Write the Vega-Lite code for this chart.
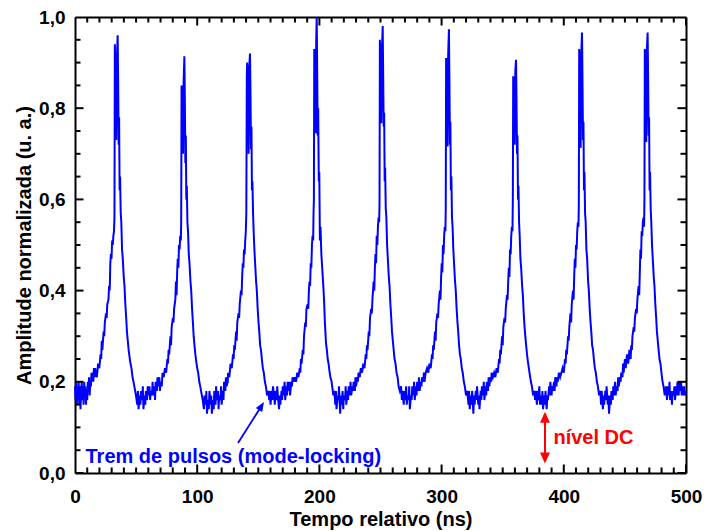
{
"$schema": "https://vega.github.io/schema/vega-lite/v6.json",
"width": 611, "height": 456,
"autosize": {"type": "none"},
"padding": {"left": 75, "top": 17, "right": 21, "bottom": 58},
"config": {
  "view": {"stroke": null},
  "axis": {"labelFont": "Liberation Sans", "labelFontWeight": "bold", "labelFontSize": 19, "labelColor": "black",
    "titleFont": "Liberation Sans", "titleFontWeight": "bold", "titleFontSize": 20, "titleColor": "black",
    "domainColor": "black", "domainWidth": 2, "grid": false}
},
"datasets": {
"xt": [{"v":0},{"v":10},{"v":20},{"v":30},{"v":40},{"v":50},{"v":60},{"v":70},{"v":80},{"v":90},{"v":100},{"v":110},{"v":120},{"v":130},{"v":140},{"v":150},{"v":160},{"v":170},{"v":180},{"v":190},{"v":200},{"v":210},{"v":220},{"v":230},{"v":240},{"v":250},{"v":260},{"v":270},{"v":280},{"v":290},{"v":300},{"v":310},{"v":320},{"v":330},{"v":340},{"v":350},{"v":360},{"v":370},{"v":380},{"v":390},{"v":400},{"v":410},{"v":420},{"v":430},{"v":440},{"v":450},{"v":460},{"v":470},{"v":480},{"v":490},{"v":500}],
"yt": [{"v":0},{"v":0.05},{"v":0.1},{"v":0.15},{"v":0.2},{"v":0.25},{"v":0.3},{"v":0.35},{"v":0.4},{"v":0.45},{"v":0.5},{"v":0.55},{"v":0.6},{"v":0.65},{"v":0.7},{"v":0.75},{"v":0.8},{"v":0.85},{"v":0.9},{"v":0.95},{"v":1}],
"sig": [
{"t":0,"a":0.19},{"t":0.5,"a":0.16},{"t":1,"a":0.2},{"t":1.5,"a":0.15},{"t":2,"a":0.18},{"t":2.5,"a":0.17},{"t":3,"a":0.2},{"t":3.5,"a":0.15},{"t":4,"a":0.19},{"t":4.5,"a":0.14},{"t":5,"a":0.18},{"t":5.5,"a":0.2},{"t":6,"a":0.16},{"t":6.5,"a":0.19},{"t":7,"a":0.15},{"t":7.5,"a":0.2},{"t":8,"a":0.17},{"t":8.5,"a":0.19},{"t":9,"a":0.15},{"t":9.5,"a":0.18},{"t":10,"a":0.16},{"t":10.5,"a":0.2},{"t":11,"a":0.18},{"t":11.5,"a":0.21},{"t":12,"a":0.17},{"t":12.5,"a":0.2},{"t":13,"a":0.19},{"t":13.5,"a":0.22},{"t":14,"a":0.2},{"t":14.5,"a":0.22},{"t":15,"a":0.2},{"t":15.5,"a":0.23},{"t":16,"a":0.21},{"t":16.5,"a":0.23},
{"t":17.0,"a":0.22},{"t":17.9,"a":0.21},{"t":18.9,"a":0.24},{"t":19.9,"a":0.23},{"t":20.9,"a":0.26},{"t":21.4,"a":0.25},{"t":21.9,"a":0.29},{"t":22.4,"a":0.27},{"t":23.4,"a":0.31},{"t":23.9,"a":0.30},{"t":24.4,"a":0.33},{"t":25.4,"a":0.35},{"t":25.9,"a":0.34},{"t":26.4,"a":0.37},{"t":27.4,"a":0.38},{"t":27.9,"a":0.41},{"t":28.4,"a":0.40},{"t":28.9,"a":0.46},{"t":29.4,"a":0.48},{"t":29.9,"a":0.47},{"t":30.4,"a":0.51},{"t":30.9,"a":0.50},{"t":31.4,"a":0.52},{"t":31.9,"a":0.53},{"t":32.3,"a":0.56},{"t":32.6,"a":0.94},{"t":33.0,"a":0.89},{"t":33.4,"a":0.92},{"t":33.8,"a":0.73},{"t":34.3,"a":0.91},{"t":34.9,"a":0.96},{"t":35.3,"a":0.86},{"t":35.7,"a":0.72},{"t":36.1,"a":0.78},{"t":36.5,"a":0.62},{"t":36.9,"a":0.65},{"t":37.4,"a":0.57},{"t":37.9,"a":0.55},{"t":38.5,"a":0.49},{"t":39.1,"a":0.47},{"t":39.9,"a":0.43},{"t":40.5,"a":0.41},{"t":41.2,"a":0.37},{"t":41.9,"a":0.34},{"t":42.5,"a":0.31},{"t":43.2,"a":0.29},{"t":43.9,"a":0.27},{"t":44.6,"a":0.255},{"t":45.4,"a":0.24},{"t":46.2,"a":0.23},{"t":47.1,"a":0.21},{"t":47.9,"a":0.20},{"t":48.9,"a":0.185},{"t":49.9,"a":0.17},
{"t":50.9,"a":0.15},{"t":51.5,"a":0.18},{"t":52,"a":0.14},{"t":53,"a":0.17},{"t":53.5,"a":0.15},{"t":54,"a":0.18},{"t":55,"a":0.16},{"t":55.5,"a":0.19},{"t":56,"a":0.14},{"t":57,"a":0.17},{"t":57.5,"a":0.15},{"t":58,"a":0.18},{"t":59,"a":0.16},{"t":59.5,"a":0.19},{"t":60,"a":0.17},{"t":61,"a":0.19},{"t":61.5,"a":0.16},{"t":62,"a":0.18},{"t":63,"a":0.17},{"t":63.5,"a":0.2},{"t":64,"a":0.17},{"t":65,"a":0.19},{"t":65.5,"a":0.16},{"t":66,"a":0.2},{"t":67,"a":0.18},{"t":67.5,"a":0.21},{"t":68,"a":0.19},{"t":69,"a":0.21},{"t":69.5,"a":0.18},{"t":70,"a":0.2},{"t":71,"a":0.19},
{"t":71.6,"a":0.22},{"t":72.6,"a":0.21},{"t":73.6,"a":0.23},{"t":74.6,"a":0.22},{"t":75.6,"a":0.25},{"t":76.1,"a":0.24},{"t":76.6,"a":0.27},{"t":77.1,"a":0.26},{"t":78.1,"a":0.30},{"t":78.6,"a":0.28},{"t":79.1,"a":0.32},{"t":80.1,"a":0.34},{"t":80.6,"a":0.33},{"t":81.1,"a":0.36},{"t":82.1,"a":0.38},{"t":82.6,"a":0.42},{"t":83.1,"a":0.39},{"t":83.6,"a":0.44},{"t":84.1,"a":0.47},{"t":84.6,"a":0.45},{"t":85.1,"a":0.50},{"t":85.6,"a":0.49},{"t":86.1,"a":0.52},{"t":86.6,"a":0.51},{"t":86.9,"a":0.55},{"t":87.2,"a":0.85},{"t":87.6,"a":0.80},{"t":88.0,"a":0.84},{"t":88.4,"a":0.70},{"t":88.9,"a":0.86},{"t":89.5,"a":0.914},{"t":89.9,"a":0.82},{"t":90.3,"a":0.68},{"t":90.7,"a":0.74},{"t":91.1,"a":0.60},{"t":91.5,"a":0.63},{"t":92.0,"a":0.55},{"t":92.5,"a":0.53},{"t":93.1,"a":0.48},{"t":93.7,"a":0.46},{"t":94.5,"a":0.42},{"t":95.1,"a":0.40},{"t":95.8,"a":0.36},{"t":96.5,"a":0.33},{"t":97.1,"a":0.30},{"t":97.8,"a":0.28},{"t":98.5,"a":0.26},{"t":99.2,"a":0.245},{"t":100.0,"a":0.23},{"t":100.8,"a":0.22},{"t":101.7,"a":0.20},{"t":102.5,"a":0.19},{"t":103.5,"a":0.175},{"t":104.5,"a":0.16},
{"t":105.5,"a":0.14},{"t":106,"a":0.17},{"t":107,"a":0.15},{"t":107.5,"a":0.18},{"t":108,"a":0.13},{"t":109,"a":0.16},{"t":109.5,"a":0.14},{"t":110,"a":0.18},{"t":111,"a":0.15},{"t":111.5,"a":0.17},{"t":112,"a":0.13},{"t":113,"a":0.16},{"t":113.5,"a":0.14},{"t":114,"a":0.18},{"t":115,"a":0.15},{"t":115.5,"a":0.19},{"t":116,"a":0.16},{"t":117,"a":0.18},{"t":117.5,"a":0.14},{"t":118,"a":0.17},{"t":119,"a":0.16},{"t":119.5,"a":0.19},{"t":120,"a":0.15},{"t":121,"a":0.18},{"t":121.5,"a":0.16},{"t":122,"a":0.2},{"t":123,"a":0.18},{"t":123.5,"a":0.21},{"t":124,"a":0.19},{"t":125,"a":0.2},
{"t":125.3,"a":0.22},{"t":126.3,"a":0.21},{"t":127.3,"a":0.24},{"t":128.3,"a":0.23},{"t":129.3,"a":0.26},{"t":129.8,"a":0.25},{"t":130.3,"a":0.28},{"t":130.8,"a":0.27},{"t":131.8,"a":0.31},{"t":132.3,"a":0.29},{"t":132.8,"a":0.33},{"t":133.8,"a":0.35},{"t":134.3,"a":0.34},{"t":134.8,"a":0.37},{"t":135.8,"a":0.40},{"t":136.3,"a":0.39},{"t":136.8,"a":0.43},{"t":137.3,"a":0.46},{"t":137.8,"a":0.45},{"t":138.3,"a":0.49},{"t":138.8,"a":0.48},{"t":139.3,"a":0.51},{"t":139.8,"a":0.53},{"t":140.2,"a":0.57},{"t":140.6,"a":0.87},{"t":140.9,"a":0.90},{"t":141.3,"a":0.86},{"t":141.7,"a":0.88},{"t":142.1,"a":0.70},{"t":142.6,"a":0.89},{"t":143.2,"a":0.92},{"t":143.6,"a":0.84},{"t":144.0,"a":0.71},{"t":144.4,"a":0.76},{"t":144.8,"a":0.62},{"t":145.2,"a":0.64},{"t":145.7,"a":0.57},{"t":146.2,"a":0.53},{"t":146.8,"a":0.49},{"t":147.4,"a":0.46},{"t":148.2,"a":0.42},{"t":148.8,"a":0.40},{"t":149.5,"a":0.36},{"t":150.2,"a":0.33},{"t":150.8,"a":0.31},{"t":151.5,"a":0.28},{"t":152.2,"a":0.27},{"t":152.9,"a":0.25},{"t":153.7,"a":0.23},{"t":154.5,"a":0.22},{"t":155.4,"a":0.20},{"t":156.2,"a":0.19},{"t":157.2,"a":0.17},{"t":158.2,"a":0.18},
{"t":159,"a":0.16},{"t":159.5,"a":0.18},{"t":160,"a":0.15},{"t":161,"a":0.18},{"t":161.5,"a":0.16},{"t":162,"a":0.19},{"t":163,"a":0.17},{"t":163.5,"a":0.15},{"t":164,"a":0.18},{"t":165,"a":0.16},{"t":165.5,"a":0.19},{"t":166,"a":0.17},{"t":167,"a":0.14},{"t":167.5,"a":0.17},{"t":168,"a":0.15},{"t":169,"a":0.18},{"t":169.5,"a":0.16},{"t":170,"a":0.19},{"t":171,"a":0.17},{"t":171.5,"a":0.2},{"t":172,"a":0.16},{"t":173,"a":0.19},{"t":173.5,"a":0.17},{"t":174,"a":0.2},{"t":175,"a":0.18},{"t":175.5,"a":0.2},{"t":176,"a":0.17},{"t":177,"a":0.2},{"t":177.5,"a":0.19},{"t":178,"a":0.21},{"t":179,"a":0.2},
{"t":179.9,"a":0.21},{"t":180.9,"a":0.20},{"t":181.9,"a":0.22},{"t":182.9,"a":0.21},{"t":183.9,"a":0.23},{"t":184.4,"a":0.22},{"t":184.9,"a":0.25},{"t":185.4,"a":0.24},{"t":186.4,"a":0.27},{"t":186.9,"a":0.26},{"t":187.4,"a":0.30},{"t":188.4,"a":0.33},{"t":188.9,"a":0.32},{"t":189.4,"a":0.36},{"t":190.4,"a":0.37},{"t":190.9,"a":0.36},{"t":191.4,"a":0.40},{"t":191.9,"a":0.42},{"t":192.4,"a":0.41},{"t":192.9,"a":0.46},{"t":193.4,"a":0.45},{"t":193.9,"a":0.50},{"t":194.4,"a":0.52},{"t":194.9,"a":0.51},{"t":195.2,"a":0.57},{"t":195.5,"a":0.60},{"t":195.8,"a":0.93},{"t":196.2,"a":0.88},{"t":196.6,"a":0.92},{"t":197.0,"a":0.745},{"t":197.4,"a":0.95},{"t":197.8,"a":1.0},{"t":198.2,"a":0.88},{"t":198.6,"a":0.74},{"t":199.0,"a":0.80},{"t":199.5,"a":0.64},{"t":199.9,"a":0.66},{"t":200.4,"a":0.51},{"t":200.9,"a":0.54},{"t":201.6,"a":0.48},{"t":202.3,"a":0.45},{"t":203.2,"a":0.41},{"t":203.8,"a":0.38},{"t":204.5,"a":0.33},{"t":205.4,"a":0.285},{"t":206.1,"a":0.27},{"t":206.8,"a":0.25},{"t":207.5,"a":0.24},{"t":208.1,"a":0.226},{"t":209.0,"a":0.21},{"t":210.0,"a":0.20},{"t":211.4,"a":0.17},{"t":212.3,"a":0.18},
{"t":213,"a":0.15},{"t":213.5,"a":0.18},{"t":214,"a":0.14},{"t":215,"a":0.17},{"t":215.5,"a":0.16},{"t":216,"a":0.19},{"t":217,"a":0.13},{"t":217.5,"a":0.17},{"t":218,"a":0.15},{"t":219,"a":0.18},{"t":219.5,"a":0.14},{"t":220,"a":0.17},{"t":221,"a":0.16},{"t":221.5,"a":0.19},{"t":222,"a":0.15},{"t":223,"a":0.18},{"t":223.5,"a":0.16},{"t":224,"a":0.19},{"t":225,"a":0.17},{"t":225.5,"a":0.2},{"t":226,"a":0.17},{"t":227,"a":0.19},{"t":227.5,"a":0.18},{"t":228,"a":0.2},{"t":229,"a":0.18},{"t":229.5,"a":0.21},{"t":230,"a":0.19},{"t":231,"a":0.21},{"t":231.5,"a":0.2},{"t":232,"a":0.22},{"t":233,"a":0.21},
{"t":233.9,"a":0.23},{"t":234.9,"a":0.22},{"t":235.9,"a":0.24},{"t":236.9,"a":0.23},{"t":237.9,"a":0.26},{"t":238.4,"a":0.25},{"t":238.9,"a":0.28},{"t":239.4,"a":0.27},{"t":240.4,"a":0.31},{"t":240.9,"a":0.30},{"t":241.4,"a":0.34},{"t":242.4,"a":0.36},{"t":242.9,"a":0.35},{"t":243.4,"a":0.38},{"t":244.4,"a":0.42},{"t":244.9,"a":0.40},{"t":245.4,"a":0.45},{"t":245.9,"a":0.48},{"t":246.4,"a":0.46},{"t":246.9,"a":0.52},{"t":247.4,"a":0.50},{"t":247.9,"a":0.54},{"t":248.4,"a":0.56},{"t":248.9,"a":0.55},{"t":249.2,"a":0.59},{"t":249.5,"a":0.95},{"t":249.9,"a":0.90},{"t":250.3,"a":0.94},{"t":250.7,"a":0.767},{"t":251.2,"a":0.93},{"t":251.8,"a":0.98},{"t":252.2,"a":0.87},{"t":252.6,"a":0.76},{"t":253.0,"a":0.79},{"t":253.4,"a":0.64},{"t":253.8,"a":0.67},{"t":254.3,"a":0.58},{"t":254.8,"a":0.56},{"t":255.4,"a":0.50},{"t":256.0,"a":0.47},{"t":256.8,"a":0.43},{"t":257.4,"a":0.41},{"t":258.1,"a":0.37},{"t":258.8,"a":0.34},{"t":259.4,"a":0.31},{"t":260.1,"a":0.29},{"t":260.8,"a":0.27},{"t":261.5,"a":0.25},{"t":262.3,"a":0.24},{"t":263.1,"a":0.22},{"t":264.0,"a":0.21},{"t":264.8,"a":0.19},{"t":265.8,"a":0.18},{"t":266.8,"a":0.19},
{"t":267.5,"a":0.16},{"t":268,"a":0.18},{"t":269,"a":0.15},{"t":269.5,"a":0.18},{"t":270,"a":0.16},{"t":271,"a":0.19},{"t":271.5,"a":0.15},{"t":272,"a":0.17},{"t":273,"a":0.16},{"t":273.5,"a":0.19},{"t":274,"a":0.14},{"t":275,"a":0.17},{"t":275.5,"a":0.16},{"t":276,"a":0.19},{"t":277,"a":0.17},{"t":277.5,"a":0.2},{"t":278,"a":0.16},{"t":279,"a":0.19},{"t":279.5,"a":0.17},{"t":280,"a":0.2},{"t":281,"a":0.18},{"t":281.5,"a":0.21},{"t":282,"a":0.18},{"t":283,"a":0.2},{"t":283.5,"a":0.19},{"t":284,"a":0.21},{"t":285,"a":0.2},{"t":285.5,"a":0.22},{"t":286,"a":0.2},{"t":287,"a":0.22},
{"t":288.1,"a":0.23},{"t":289.1,"a":0.22},{"t":290.1,"a":0.24},{"t":291.1,"a":0.23},{"t":292.1,"a":0.26},{"t":292.6,"a":0.25},{"t":293.1,"a":0.28},{"t":293.6,"a":0.27},{"t":294.6,"a":0.31},{"t":295.1,"a":0.29},{"t":295.6,"a":0.33},{"t":296.6,"a":0.35},{"t":297.1,"a":0.34},{"t":297.6,"a":0.37},{"t":298.6,"a":0.40},{"t":299.1,"a":0.38},{"t":299.6,"a":0.43},{"t":300.1,"a":0.46},{"t":300.6,"a":0.44},{"t":301.1,"a":0.50},{"t":301.6,"a":0.48},{"t":302.1,"a":0.52},{"t":302.6,"a":0.54},{"t":303.1,"a":0.53},{"t":303.4,"a":0.58},{"t":303.7,"a":0.91},{"t":304.1,"a":0.87},{"t":304.5,"a":0.90},{"t":304.9,"a":0.716},{"t":305.4,"a":0.92},{"t":306.0,"a":0.973},{"t":306.4,"a":0.86},{"t":306.8,"a":0.72},{"t":307.2,"a":0.77},{"t":307.6,"a":0.62},{"t":308.0,"a":0.65},{"t":308.5,"a":0.56},{"t":309.0,"a":0.54},{"t":309.6,"a":0.49},{"t":310.2,"a":0.46},{"t":311.0,"a":0.42},{"t":311.6,"a":0.40},{"t":312.3,"a":0.36},{"t":313.0,"a":0.33},{"t":313.6,"a":0.31},{"t":314.3,"a":0.28},{"t":315.0,"a":0.26},{"t":315.7,"a":0.25},{"t":316.5,"a":0.23},{"t":317.3,"a":0.22},{"t":318.2,"a":0.20},{"t":319.0,"a":0.19},{"t":320.0,"a":0.17},{"t":321.0,"a":0.18},
{"t":322,"a":0.15},{"t":322.5,"a":0.18},{"t":323,"a":0.14},{"t":324,"a":0.17},{"t":324.5,"a":0.15},{"t":325,"a":0.18},{"t":326,"a":0.13},{"t":326.5,"a":0.17},{"t":327,"a":0.15},{"t":328,"a":0.18},{"t":328.5,"a":0.16},{"t":329,"a":0.19},{"t":330,"a":0.15},{"t":330.5,"a":0.17},{"t":331,"a":0.14},{"t":332,"a":0.18},{"t":332.5,"a":0.16},{"t":333,"a":0.19},{"t":334,"a":0.17},{"t":334.5,"a":0.2},{"t":335,"a":0.16},{"t":336,"a":0.19},{"t":336.5,"a":0.17},{"t":337,"a":0.2},{"t":338,"a":0.18},{"t":338.5,"a":0.21},{"t":339,"a":0.19},{"t":340,"a":0.21},{"t":340.5,"a":0.2},{"t":341,"a":0.22},{"t":342,"a":0.21},
{"t":343.0,"a":0.22},{"t":344.0,"a":0.21},{"t":345.0,"a":0.23},{"t":346.0,"a":0.22},{"t":347.0,"a":0.25},{"t":347.5,"a":0.24},{"t":348.0,"a":0.27},{"t":348.5,"a":0.26},{"t":349.5,"a":0.30},{"t":350.0,"a":0.28},{"t":350.5,"a":0.32},{"t":351.5,"a":0.34},{"t":352.0,"a":0.33},{"t":352.5,"a":0.36},{"t":353.5,"a":0.39},{"t":354.0,"a":0.38},{"t":354.5,"a":0.42},{"t":355.0,"a":0.45},{"t":355.5,"a":0.43},{"t":356.0,"a":0.49},{"t":356.5,"a":0.48},{"t":357.0,"a":0.52},{"t":357.5,"a":0.54},{"t":358.0,"a":0.53},{"t":358.3,"a":0.60},{"t":358.6,"a":0.87},{"t":359.0,"a":0.83},{"t":359.4,"a":0.86},{"t":359.8,"a":0.72},{"t":360.3,"a":0.88},{"t":360.9,"a":0.906},{"t":361.3,"a":0.82},{"t":361.7,"a":0.70},{"t":362.1,"a":0.74},{"t":362.5,"a":0.60},{"t":362.9,"a":0.63},{"t":363.4,"a":0.55},{"t":363.9,"a":0.52},{"t":364.5,"a":0.47},{"t":365.1,"a":0.45},{"t":365.9,"a":0.41},{"t":366.5,"a":0.39},{"t":367.2,"a":0.35},{"t":367.9,"a":0.32},{"t":368.5,"a":0.30},{"t":369.2,"a":0.28},{"t":369.9,"a":0.26},{"t":370.6,"a":0.245},{"t":371.4,"a":0.23},{"t":372.2,"a":0.215},{"t":373.1,"a":0.20},{"t":373.9,"a":0.19},{"t":374.9,"a":0.17},{"t":375.9,"a":0.18},
{"t":376.5,"a":0.16},{"t":377,"a":0.18},{"t":378,"a":0.15},{"t":378.5,"a":0.18},{"t":379,"a":0.16},{"t":380,"a":0.19},{"t":380.5,"a":0.15},{"t":381,"a":0.17},{"t":382,"a":0.15},{"t":382.5,"a":0.18},{"t":383,"a":0.14},{"t":384,"a":0.17},{"t":384.5,"a":0.15},{"t":385,"a":0.18},{"t":386,"a":0.14},{"t":386.5,"a":0.17},{"t":387,"a":0.16},{"t":388,"a":0.19},{"t":388.5,"a":0.17},{"t":389,"a":0.2},{"t":390,"a":0.17},{"t":390.5,"a":0.19},{"t":391,"a":0.18},{"t":392,"a":0.2},{"t":392.5,"a":0.18},{"t":393,"a":0.21},{"t":394,"a":0.19},{"t":394.5,"a":0.21},{"t":395,"a":0.2},{"t":396,"a":0.22},
{"t":397.0,"a":0.21},{"t":398.0,"a":0.22},{"t":399.0,"a":0.23},{"t":400.0,"a":0.22},{"t":401.0,"a":0.25},{"t":401.5,"a":0.24},{"t":402.0,"a":0.27},{"t":402.5,"a":0.26},{"t":403.5,"a":0.30},{"t":404.0,"a":0.29},{"t":404.5,"a":0.32},{"t":405.5,"a":0.35},{"t":406.0,"a":0.33},{"t":406.5,"a":0.37},{"t":407.5,"a":0.40},{"t":408.0,"a":0.38},{"t":408.5,"a":0.43},{"t":409.0,"a":0.47},{"t":409.5,"a":0.45},{"t":410.0,"a":0.50},{"t":410.5,"a":0.49},{"t":411.0,"a":0.53},{"t":411.5,"a":0.55},{"t":412.0,"a":0.54},{"t":412.3,"a":0.59},{"t":412.6,"a":0.93},{"t":413.0,"a":0.88},{"t":413.4,"a":0.91},{"t":413.8,"a":0.713},{"t":414.3,"a":0.92},{"t":414.9,"a":0.966},{"t":415.3,"a":0.86},{"t":415.7,"a":0.73},{"t":416.1,"a":0.77},{"t":416.5,"a":0.62},{"t":416.9,"a":0.66},{"t":417.4,"a":0.57},{"t":417.9,"a":0.55},{"t":418.5,"a":0.49},{"t":419.1,"a":0.47},{"t":419.9,"a":0.42},{"t":420.5,"a":0.40},{"t":421.2,"a":0.36},{"t":421.9,"a":0.33},{"t":422.5,"a":0.31},{"t":423.2,"a":0.28},{"t":423.9,"a":0.27},{"t":424.6,"a":0.25},{"t":425.4,"a":0.23},{"t":426.2,"a":0.22},{"t":427.1,"a":0.20},{"t":427.9,"a":0.19},{"t":428.9,"a":0.17},{"t":429.9,"a":0.18},
{"t":430.5,"a":0.15},{"t":431,"a":0.18},{"t":432,"a":0.14},{"t":432.5,"a":0.17},{"t":433,"a":0.15},{"t":434,"a":0.18},{"t":434.5,"a":0.16},{"t":435,"a":0.19},{"t":436,"a":0.15},{"t":436.5,"a":0.17},{"t":437,"a":0.13},{"t":438,"a":0.17},{"t":438.5,"a":0.15},{"t":439,"a":0.18},{"t":440,"a":0.16},{"t":440.5,"a":0.19},{"t":441,"a":0.17},{"t":442,"a":0.2},{"t":442.5,"a":0.17},{"t":443,"a":0.19},{"t":444,"a":0.18},{"t":444.5,"a":0.21},{"t":445,"a":0.19},{"t":446,"a":0.21},{"t":446.5,"a":0.2},{"t":447,"a":0.22},{"t":448,"a":0.21},{"t":448.5,"a":0.24},{"t":449,"a":0.22},{"t":450,"a":0.25},
{"t":450.7,"a":0.23},{"t":451.7,"a":0.26},{"t":452.7,"a":0.24},{"t":453.7,"a":0.27},{"t":454.7,"a":0.25},{"t":455.2,"a":0.28},{"t":455.7,"a":0.27},{"t":456.2,"a":0.30},{"t":457.2,"a":0.32},{"t":457.7,"a":0.31},{"t":458.2,"a":0.34},{"t":459.2,"a":0.36},{"t":459.7,"a":0.35},{"t":460.2,"a":0.38},{"t":461.2,"a":0.41},{"t":461.7,"a":0.39},{"t":462.2,"a":0.44},{"t":462.7,"a":0.49},{"t":463.2,"a":0.47},{"t":463.7,"a":0.53},{"t":464.2,"a":0.52},{"t":464.7,"a":0.55},{"t":465.2,"a":0.56},{"t":465.7,"a":0.54},{"t":466.0,"a":0.60},{"t":466.3,"a":0.93},{"t":466.7,"a":0.89},{"t":467.1,"a":0.92},{"t":467.5,"a":0.726},{"t":468.0,"a":0.93},{"t":468.6,"a":0.966},{"t":469.0,"a":0.87},{"t":469.4,"a":0.74},{"t":469.8,"a":0.78},{"t":470.2,"a":0.62},{"t":470.6,"a":0.66},{"t":471.1,"a":0.58},{"t":471.6,"a":0.55},{"t":472.2,"a":0.50},{"t":472.8,"a":0.47},{"t":473.6,"a":0.43},{"t":474.2,"a":0.41},{"t":474.9,"a":0.37},{"t":475.6,"a":0.34},{"t":476.2,"a":0.31},{"t":476.9,"a":0.29},{"t":477.6,"a":0.27},{"t":478.3,"a":0.25},{"t":479.1,"a":0.24},{"t":479.9,"a":0.22},{"t":480.8,"a":0.20},{"t":481.6,"a":0.19},{"t":482.6,"a":0.17},{"t":483.6,"a":0.19},
{"t":484.5,"a":0.16},{"t":485,"a":0.19},{"t":486,"a":0.17},{"t":486.5,"a":0.2},{"t":487,"a":0.16},{"t":488,"a":0.18},{"t":488.5,"a":0.15},{"t":489,"a":0.18},{"t":490,"a":0.17},{"t":490.5,"a":0.19},{"t":491,"a":0.16},{"t":492,"a":0.19},{"t":492.5,"a":0.17},{"t":493,"a":0.2},{"t":494,"a":0.17},{"t":494.5,"a":0.2},{"t":495,"a":0.18},{"t":496,"a":0.2},{"t":496.5,"a":0.17},{"t":497,"a":0.19},{"t":498,"a":0.17},{"t":498.5,"a":0.19},{"t":499,"a":0.17},{"t":500,"a":0.18}
]
},
"resolve": {"axis": {"x": "independent", "y": "independent"}},
"layer": [
{
  "data": {"name": "sig"},
  "mark": {"type": "line", "color": "#0000ff", "strokeWidth": 2},
  "encoding": {
    "x": {"field": "t", "type": "quantitative", "scale": {"domain": [0, 500], "nice": false, "zero": false},
      "axis": {"orient": "bottom", "title": "Tempo relativo (ns)", "values": [0,100,200,300,400,500], "format": "d",
        "ticks": false, "labelPadding": 14, "labelFlush": false, "titleY": 36, "titleBaseline": "top"}},
    "y": {"field": "a", "type": "quantitative", "scale": {"domain": [0, 1], "nice": false},
      "axis": {"orient": "left", "title": "Amplitude normalizada (u. a.)", "values": [0,0.2,0.4,0.6,0.8,1],
        "labelExpr": "replace(format(datum.value, '.1f'), '.', ',')",
        "ticks": false, "labelPadding": 10, "titleX": -41}}
  }
},
{
  "data": {"values": [{"t": 8.6, "a": 0.022, "txt": "Trem de pulsos (mode-locking)"}]},
  "mark": {"type": "text", "align": "left", "baseline": "alphabetic", "font": "Liberation Sans", "fontWeight": "bold", "fontSize": 20, "color": "#0000ff"},
  "encoding": {
    "x": {"field": "t", "type": "quantitative", "scale": {"domain": [0, 500], "nice": false, "zero": false},
      "axis": {"orient": "top", "title": null, "labels": false, "ticks": false, "values": [0,500]}},
    "y": {"field": "a", "type": "quantitative", "scale": {"domain": [0, 1], "nice": false},
      "axis": {"orient": "right", "title": null, "labels": false, "ticks": false, "values": [0,1]}},
    "text": {"field": "txt"}
  }
},
{
  "data": {"name": "xt"},
  "transform": [{"filter": "datum.v % 100 === 0"}],
  "mark": {"type": "tick", "orient": "vertical", "size": 17, "thickness": 2, "color": "black", "opacity": 1, "clip": true},
  "encoding": {
    "x": {"field": "v", "type": "quantitative", "scale": {"domain": [0, 500], "nice": false, "zero": false}, "axis": null},
    "y": {"datum": 0, "type": "quantitative", "scale": {"domain": [0, 1], "nice": false}, "axis": null}
  }
},
{
  "data": {"name": "xt"},
  "transform": [{"filter": "datum.v % 100 === 0"}],
  "mark": {"type": "tick", "orient": "vertical", "size": 17, "thickness": 2, "color": "black", "opacity": 1, "clip": true},
  "encoding": {
    "x": {"field": "v", "type": "quantitative", "scale": {"domain": [0, 500], "nice": false, "zero": false}, "axis": null},
    "y": {"datum": 1, "type": "quantitative", "scale": {"domain": [0, 1], "nice": false}, "axis": null}
  }
},
{
  "data": {"name": "xt"},
  "transform": [{"filter": "datum.v % 100 !== 0"}],
  "mark": {"type": "tick", "orient": "vertical", "size": 11, "thickness": 2, "color": "black", "opacity": 1, "clip": true},
  "encoding": {
    "x": {"field": "v", "type": "quantitative", "scale": {"domain": [0, 500], "nice": false, "zero": false}, "axis": null},
    "y": {"datum": 0, "type": "quantitative", "scale": {"domain": [0, 1], "nice": false}, "axis": null}
  }
},
{
  "data": {"name": "xt"},
  "transform": [{"filter": "datum.v % 100 !== 0"}],
  "mark": {"type": "tick", "orient": "vertical", "size": 11, "thickness": 2, "color": "black", "opacity": 1, "clip": true},
  "encoding": {
    "x": {"field": "v", "type": "quantitative", "scale": {"domain": [0, 500], "nice": false, "zero": false}, "axis": null},
    "y": {"datum": 1, "type": "quantitative", "scale": {"domain": [0, 1], "nice": false}, "axis": null}
  }
},
{
  "data": {"name": "yt"},
  "transform": [{"filter": "round(datum.v * 100) % 20 === 0"}],
  "mark": {"type": "tick", "orient": "horizontal", "size": 17, "thickness": 2, "color": "black", "opacity": 1, "clip": true},
  "encoding": {
    "x": {"datum": 0, "type": "quantitative", "scale": {"domain": [0, 500], "nice": false, "zero": false}, "axis": null},
    "y": {"field": "v", "type": "quantitative", "scale": {"domain": [0, 1], "nice": false}, "axis": null}
  }
},
{
  "data": {"name": "yt"},
  "transform": [{"filter": "round(datum.v * 100) % 20 === 0"}],
  "mark": {"type": "tick", "orient": "horizontal", "size": 17, "thickness": 2, "color": "black", "opacity": 1, "clip": true},
  "encoding": {
    "x": {"datum": 500, "type": "quantitative", "scale": {"domain": [0, 500], "nice": false, "zero": false}, "axis": null},
    "y": {"field": "v", "type": "quantitative", "scale": {"domain": [0, 1], "nice": false}, "axis": null}
  }
},
{
  "data": {"name": "yt"},
  "transform": [{"filter": "round(datum.v * 100) % 20 !== 0"}],
  "mark": {"type": "tick", "orient": "horizontal", "size": 11, "thickness": 2, "color": "black", "opacity": 1, "clip": true},
  "encoding": {
    "x": {"datum": 0, "type": "quantitative", "scale": {"domain": [0, 500], "nice": false, "zero": false}, "axis": null},
    "y": {"field": "v", "type": "quantitative", "scale": {"domain": [0, 1], "nice": false}, "axis": null}
  }
},
{
  "data": {"name": "yt"},
  "transform": [{"filter": "round(datum.v * 100) % 20 !== 0"}],
  "mark": {"type": "tick", "orient": "horizontal", "size": 11, "thickness": 2, "color": "black", "opacity": 1, "clip": true},
  "encoding": {
    "x": {"datum": 500, "type": "quantitative", "scale": {"domain": [0, 500], "nice": false, "zero": false}, "axis": null},
    "y": {"field": "v", "type": "quantitative", "scale": {"domain": [0, 1], "nice": false}, "axis": null}
  }
},
{
  "data": {"values": [{"t": 391.5, "a": 0.064, "txt": "nível DC"}]},
  "mark": {"type": "text", "align": "left", "baseline": "alphabetic", "font": "Liberation Sans", "fontWeight": "bold", "fontSize": 20, "color": "#ff0000"},
  "encoding": {
    "x": {"field": "t", "type": "quantitative", "scale": {"domain": [0, 500], "nice": false, "zero": false}, "axis": null},
    "y": {"field": "a", "type": "quantitative", "scale": {"domain": [0, 1], "nice": false}, "axis": null},
    "text": {"field": "txt"}
  }
},
{
  "data": {"values": [{"t": 133.4, "a": 0.066, "t2": 152.6, "a2": 0.147}]},
  "mark": {"type": "rule", "color": "#0000ff", "strokeWidth": 1.8},
  "encoding": {
    "x": {"field": "t", "type": "quantitative", "scale": {"domain": [0, 500], "nice": false, "zero": false}, "axis": null},
    "y": {"field": "a", "type": "quantitative", "scale": {"domain": [0, 1], "nice": false}, "axis": null},
    "x2": {"field": "t2"},
    "y2": {"field": "a2"}
  }
},
{
  "data": {"values": [{"t": 152.6, "a": 0.147}]},
  "mark": {"type": "point", "shape": "M0,-1L0.8,1L-0.8,1Z", "filled": true, "size": 90, "angle": 32, "color": "#0000ff", "opacity": 1, "strokeWidth": 0},
  "encoding": {
    "x": {"field": "t", "type": "quantitative", "scale": {"domain": [0, 500], "nice": false, "zero": false}, "axis": null},
    "y": {"field": "a", "type": "quantitative", "scale": {"domain": [0, 1], "nice": false}, "axis": null}
  }
},
{
  "data": {"values": [{"t": 384.6, "a": 0.122, "a2": 0.033}]},
  "mark": {"type": "rule", "color": "#ff0000", "strokeWidth": 2},
  "encoding": {
    "x": {"field": "t", "type": "quantitative", "scale": {"domain": [0, 500], "nice": false, "zero": false}, "axis": null},
    "y": {"field": "a", "type": "quantitative", "scale": {"domain": [0, 1], "nice": false}, "axis": null},
    "y2": {"field": "a2"}
  }
},
{
  "data": {"values": [{"t": 384.6, "a": 0.122}]},
  "mark": {"type": "point", "shape": "M0,-1L0.9,1L-0.9,1Z", "filled": true, "size": 121, "color": "#ff0000", "opacity": 1, "strokeWidth": 0},
  "encoding": {
    "x": {"field": "t", "type": "quantitative", "scale": {"domain": [0, 500], "nice": false, "zero": false}, "axis": null},
    "y": {"field": "a", "type": "quantitative", "scale": {"domain": [0, 1], "nice": false}, "axis": null}
  }
},
{
  "data": {"values": [{"t": 384.6, "a": 0.033}]},
  "mark": {"type": "point", "shape": "M0,1L0.9,-1L-0.9,-1Z", "filled": true, "size": 121, "color": "#ff0000", "opacity": 1, "strokeWidth": 0},
  "encoding": {
    "x": {"field": "t", "type": "quantitative", "scale": {"domain": [0, 500], "nice": false, "zero": false}, "axis": null},
    "y": {"field": "a", "type": "quantitative", "scale": {"domain": [0, 1], "nice": false}, "axis": null}
  }
}
]
}
